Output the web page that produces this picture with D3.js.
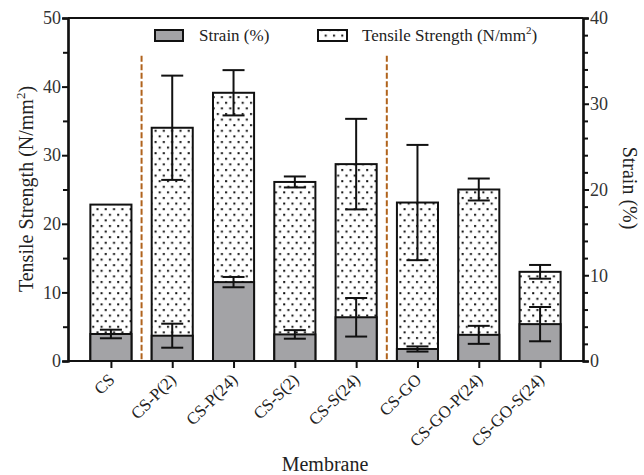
<!DOCTYPE html>
<html>
<head>
<meta charset="utf-8">
<script src="https://cdn.jsdelivr.net/npm/d3@7"></script>
<style>
  body { margin: 0; background: #fff; }
  svg text { font-family: "Times New Roman", "Liberation Serif", Times, serif !important; }
</style>
</head>
<body>
<div id="chart"></div>
<script>
// membranes on the x axis
const membranes = ["CS", "CS-P(2)", "CS-P(24)", "CS-S(2)", "CS-S(24)", "CS-GO", "CS-GO-P(24)", "CS-GO-S(24)"]

// tensile strength (N/mm2), left axis
const tensile = [22.8, 34.0, 39.1, 26.1, 28.7, 23.1, 25.0, 13.0]
const tensileErr = [0, 7.6, 3.3, 0.8, 6.6, 8.4, 1.6, 1.0]

// strain (%), right axis
const strain = [3.15, 2.95, 9.2, 3.1, 5.1, 1.4, 3.05, 4.3]
const strainErr = [0.5, 1.4, 0.6, 0.5, 2.25, 0.3, 1.05, 2.0]

// dashed separators sit between these pairs
const separators = [["CS", "CS-P(2)"], ["CS-S(24)", "CS-GO"]]

const leftTicks = [0, 10, 20, 30, 40, 50]
const rightTicks = [0, 10, 20, 30, 40]

const width = 644
const height = 475
const margin = {top: 18, right: 61, bottom: 114, left: 68}

const svg = d3.select("#chart").append("svg")
    .attr("width", width)
    .attr("height", height)
    .attr("font-family", "'Times New Roman', 'Liberation Serif', serif")

// dotted fill for tensile bars
const defs = svg.append("defs")
const pat = defs.append("pattern")
    .attr("id", "dots")
    .attr("patternUnits", "userSpaceOnUse")
    .attr("width", 8.3)
    .attr("height", 11.2)
pat.append("rect").attr("width", 8.3).attr("height", 11.2).attr("fill", "#fff")
pat.append("rect").attr("x", 1).attr("y", 1).attr("width", 2).attr("height", 2).attr("fill", "#111")
pat.append("rect").attr("x", 5.15).attr("y", 6.6).attr("width", 2).attr("height", 2).attr("fill", "#111")

const x = d3.scalePoint()
    .domain(membranes)
    .range([margin.left, width - margin.right])
    .padding(0.7)

const yL = d3.scaleLinear().domain([0, 50]).range([height - margin.bottom, margin.top])
const yR = d3.scaleLinear().domain([0, 40]).range([height - margin.bottom, margin.top])

const barW = x.step() * 0.67
const capW = 22

// tensile bars
svg.append("g")
    .selectAll("rect")
    .data(membranes)
    .join("rect")
        .attr("x", d => x(d) - barW / 2)
        .attr("y", (d, i) => yL(tensile[i]))
        .attr("width", barW)
        .attr("height", (d, i) => yL(0) - yL(tensile[i]))
        .attr("fill", "url(#dots)")
        .attr("stroke", "#111")
        .attr("stroke-width", 2)

// dashed separator lines
svg.append("g")
    .selectAll("line")
    .data(separators)
    .join("line")
        .attr("x1", d => (x(d[0]) + x(d[1])) / 2)
        .attr("x2", d => (x(d[0]) + x(d[1])) / 2)
        .attr("y1", yL(44.5))
        .attr("y2", yL(0))
        .attr("stroke", "#b0631c")
        .attr("stroke-width", 2)
        .attr("stroke-dasharray", "6,2.5")

function errorBars(vals, errs, y) {
    const g = svg.append("g")
        .attr("stroke", "#111")
        .attr("stroke-width", 2)
    membranes.forEach((m, i) => {
        if (errs[i] <= 0) return
        const cx = x(m)
        const hi = y(vals[i] + errs[i])
        const lo = y(vals[i] - errs[i])
        g.append("line").attr("x1", cx).attr("x2", cx).attr("y1", hi).attr("y2", lo)
        g.append("line").attr("x1", cx - capW / 2).attr("x2", cx + capW / 2).attr("y1", hi).attr("y2", hi)
        g.append("line").attr("x1", cx - capW / 2).attr("x2", cx + capW / 2).attr("y1", lo).attr("y2", lo)
    })
}

errorBars(tensile, tensileErr, yL)

// strain bars in front
svg.append("g")
    .selectAll("rect")
    .data(membranes)
    .join("rect")
        .attr("x", d => x(d) - barW / 2)
        .attr("y", (d, i) => yR(strain[i]))
        .attr("width", barW)
        .attr("height", (d, i) => yR(0) - yR(strain[i]))
        .attr("fill", "#a3a3a6")
        .attr("stroke", "#111")
        .attr("stroke-width", 2)

errorBars(strain, strainErr, yR)

// axes
const axisL = svg.append("g")
    .attr("transform", `translate(${margin.left},0)`)
    .call(d3.axisLeft(yL).tickValues(leftTicks).tickSize(6).tickPadding(1))
axisL.append("g")
    .call(d3.axisLeft(yL).tickValues([5, 15, 25, 35, 45]).tickSize(5).tickFormat(""))

const axisR = svg.append("g")
    .attr("transform", `translate(${width - margin.right},0)`)
    .call(d3.axisRight(yR).tickValues(rightTicks).tickSize(6).tickPadding(1))
axisR.append("g")
    .call(d3.axisRight(yR).tickValues(d3.range(2, 40, 2).filter(v => v % 10 !== 0)).tickSize(5).tickFormat(""))

const axisB = svg.append("g")
    .attr("transform", `translate(0,${yL(0)})`)
    .call(d3.axisBottom(x).tickSize(7).tickFormat(""))

svg.selectAll(".domain").attr("stroke", "#111").attr("stroke-width", 2.2)
svg.selectAll(".tick line").attr("stroke", "#111").attr("stroke-width", 2)
svg.selectAll("g").attr("font-family", null)
svg.selectAll(".tick text")
    .attr("font-size", 18)
    .attr("fill", "#333")
axisB.select(".domain").attr("d", `M${margin.left},0H${width - margin.right}`)

// top frame line
svg.append("line")
    .attr("x1", margin.left).attr("x2", width - margin.right)
    .attr("y1", margin.top).attr("y2", margin.top)
    .attr("stroke", "#111").attr("stroke-width", 2.2)

// rotated category labels
svg.append("g")
    .selectAll("text")
    .data(membranes)
    .join("text")
        .attr("transform", d => `translate(${x(d) + 1},${yL(0) + 16}) rotate(-45)`)
        .attr("text-anchor", "end")
        .attr("dy", "0.32em")
        .attr("font-size", 17)
        .attr("fill", "#222")
        .text(d => d)

// axis titles
svg.append("text")
    .attr("x", 325).attr("y", 471)
    .attr("text-anchor", "middle")
    .attr("font-size", 20)
    .attr("fill", "#222")
    .text("Membrane")

const tl = svg.append("text")
    .attr("transform", "translate(33,189) rotate(-90)")
    .attr("text-anchor", "middle")
    .attr("font-size", 20)
    .attr("fill", "#222")
tl.append("tspan").text("Tensile Strength (N/mm")
tl.append("tspan").attr("font-size", 13).attr("dy", -8).text("2")
tl.append("tspan").attr("dy", 8).text(")")

svg.append("text")
    .attr("transform", "translate(623,188) rotate(90)")
    .attr("text-anchor", "middle")
    .attr("font-size", 20)
    .attr("fill", "#222")
    .text("Strain (%)")

// legend
const legend = svg.append("g")
legend.append("rect")
    .attr("x", 155).attr("y", 30).attr("width", 28).attr("height", 11)
    .attr("fill", "#a3a3a6").attr("stroke", "#111").attr("stroke-width", 2)
legend.append("text")
    .attr("x", 199).attr("y", 41)
    .attr("font-size", 17)
    .attr("fill", "#222")
    .text("Strain (%)")
legend.append("rect")
    .attr("x", 318).attr("y", 30).attr("width", 29).attr("height", 11)
    .attr("fill", "url(#dots)").attr("stroke", "#111").attr("stroke-width", 2)
const lt = legend.append("text")
    .attr("x", 362).attr("y", 41)
    .attr("font-size", 17)
    .attr("fill", "#222")
lt.append("tspan").text("Tensile Strength (N/mm")
lt.append("tspan").attr("font-size", 11).attr("dy", -7).text("2")
lt.append("tspan").attr("dy", 7).text(")")
</script>
</body>
</html>
